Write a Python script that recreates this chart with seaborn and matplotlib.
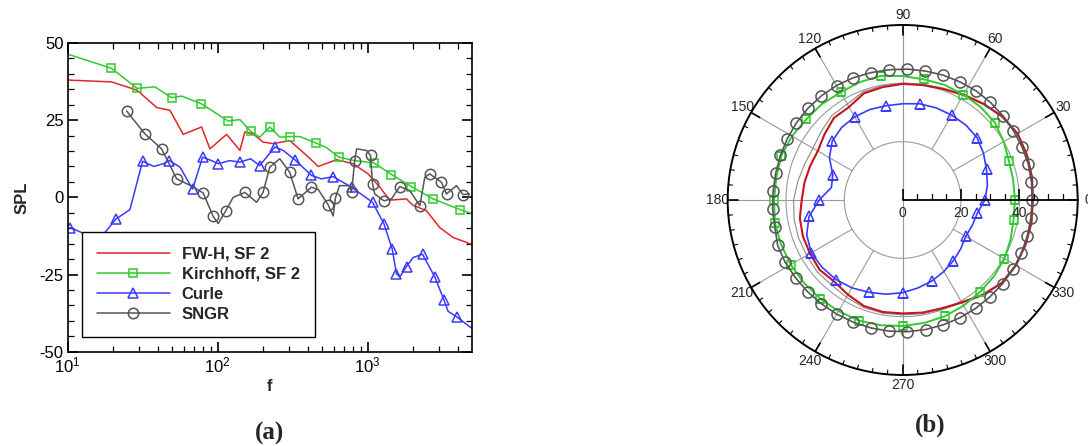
import numpy as np
import matplotlib
matplotlib.use("Agg")
import matplotlib.pyplot as plt
import seaborn as sns
from matplotlib.lines import Line2D
from matplotlib.ticker import MultipleLocator, LogLocator, NullFormatter

# ---- panel (a): spectra ----
fwh_f = [10, 19.6, 29.1, 39.2, 48.1, 59, 78.2, 88.9, 114.8, 141, 152, 172.5, 201, 235, 303,
         392, 469, 621, 802, 1009, 1208, 1408, 1820, 2000, 2470, 3034, 3724, 4930]
fwh_spl = [38, 37.4, 34.7, 29.1, 28.2, 20.4, 22.8, 15.7, 20.4, 15.2, 21.2, 20.6, 17.9, 17.4, 18.4,
           13.6, 10, 12.2, 10.9, 7.6, 3.3, -0.9, -0.5, -2.5, -4.3, -9.8, -13, -15.2]

kir_f = [10, 19.6, 29.1, 38.2, 49.3, 57.5, 77.4, 117.8, 140.8, 166, 191, 223, 260, 303, 354,
         452, 533, 644, 822, 1101, 1445, 1963, 2737, 4169, 4930]
kir_spl = [46.4, 41.8, 35.3, 35.8, 32.3, 32.8, 30.4, 24.7, 25.2, 21.4, 19.5, 22.8, 19.5, 19.7, 19.7,
           17.6, 16.1, 13, 11.9, 11.2, 7.4, 3.5, -0.5, -4.0, -5.2]
kir_marks = [1, 2, 4, 6, 7, 9, 11, 13, 15, 17, 19, 20, 21, 22, 23]

cur_f = [10.4, 13.1, 15, 17.3, 21, 26, 31.6, 37.6, 43.4, 47.6, 56.1, 68.1, 79.4, 91.2, 101, 121,
         141, 166, 191, 241, 274, 327, 423, 493, 590, 782, 1080, 1285, 1459, 1560, 1641, 1820,
         2016, 2328, 2812, 3245, 3447, 3956, 4930]
cur_spl = [-9.8, -11.9, -16, -12, -7, -4, 11.7, 10, 10.9, 11.9, 9.8, 2.7, 13, 11.9, 10.9, 11.9,
           11.4, 12.5, 10.3, 16.3, 15.2, 12.2, 7.1, 6, 6.7, 3.3, -1.6, -8.5, -16.6, -24.7, -25.8, -22.4,
           -19.5, -18.4, -25.8, -33.4, -36.9, -38.8, -42.3]
cur_marks = [0, 4, 6, 9, 11, 12, 14, 16, 18, 19, 21, 22, 24, 25, 26, 27, 28, 29, 31, 33, 34, 35, 37]

sngr_f = [24.7, 32.7, 42.3, 53.3, 68, 80.2, 93.5, 101, 113.5, 127, 152, 182, 201, 223, 260, 303,
          344, 423, 470, 546, 590, 611, 650, 760, 782, 822, 845, 985, 1047, 1080, 1117, 1285,
          1445, 1641, 1914, 2233, 2411, 2600, 3113, 3365, 3920, 4335, 4785]
sngr_spl = [28, 20.6, 15.7, 6, 3.5, 1.4, -6.2, -8.5, -4.3, 0, 1.6, -1.6, 1.6, 9.8, 12.5, 8.1,
            -0.5, 3.3, 2.5, -2.4, -6, -0.2, 3.8, 3.8, 1.6, 11.9, 15.7, 15.2, 13.6, 4.4, 1.1, -1.1,
            -0.5, 3.5, 2.2, -2.7, 6.5, 7.6, 4.9, 1.1, 3.8, 0.9, 1.1]
sngr_marks = [0, 1, 2, 3, 5, 6, 8, 10, 12, 13, 15, 16, 17, 19, 21, 24, 25, 28, 29, 31, 33, 35, 37, 38, 39, 41]

# ---- panel (b): directivity ----
ang10 = list(range(0, 370, 10))
fwh_r = [44.6, 45, 45.3, 45.5, 44.5, 43, 41.6, 40.5, 40, 39.8, 39.3, 38.9, 36.8, 36.7, 35, 33.6,
         33.8, 34.2, 34.6, 35.8, 36.4, 36.7, 37.2, 36.5, 37.5, 38.7, 39, 38.9, 39.2, 39.5, 40.5,
         42.5, 44.3, 44.8, 44.8, 44.8, 44.6]
sf1_r = [44.8, 45.2, 45.5, 45.6, 44.8, 43.3, 41.9, 40.8, 40.3, 40.1, 39.8, 39.5, 38, 37.8, 36.5,
         35.5, 35.8, 36.5, 37.4, 37.8, 38, 38, 38.3, 38, 38.5, 39.2, 39.4, 39.4, 39.6, 39.9, 40.8,
         42.8, 44.5, 45, 45, 45, 44.8]
kir_r = [38.5, 38.5, 38.8, 40, 41.3, 41.6, 41.7, 42, 42, 42.5, 43.2, 43, 42.6, 43, 43.1, 43.8,
         44.3, 44, 44.1, 44.5, 44.4, 44.3, 44.2, 44.1, 44, 44, 43.6, 43.2, 42.8, 42.4, 41.8,
         41.2, 40.8, 40.3, 39.4, 38.6, 38.5]
cur_r = [28.2, 29.5, 30.6, 32, 33.3, 33.6, 33.6, 33.6, 33.5, 33, 32.8, 33, 32.9, 32.5, 31.5, 29,
         25.5, 24.8, 28.6, 32.6, 35, 36.2, 36, 35.6, 34.8, 33.7, 32.8, 31.8, 30.6, 29.5, 28.3,
         27.1, 26, 25, 25.4, 26, 28.2]
dir_marks = [0, 2, 4, 6, 8, 10, 12, 14, 16, 18, 19, 21, 23, 25, 27, 29, 31, 33, 35]

ang8 = list(range(0, 368, 8))
sngr_r = [44.4, 44.6, 44.8, 44.8, 44.8, 44.9, 45, 45.1, 45, 45, 44.9, 44.9, 44.9, 45, 45.2, 45.3,
          45.3, 45.2, 45, 44.8, 44.6, 44.5, 44.5, 44.7, 44.8, 45.6, 45.6, 45.4, 45.3, 45.2, 45.2,
          45.2, 45.2, 45.2, 45.2, 45.1, 45, 44.9, 44.8, 44.7, 44.7, 44.7, 44.6, 44.5, 44.4, 44.4]

RED, GREEN, BLUE, GRAY = "#e3262a", "#2fcb2f", "#3a3aff", "#555555"

sns.set_style("ticks")
plt.rcParams["font.family"] = ["Liberation Sans", "DejaVu Sans"]
plt.rcParams["mathtext.default"] = "regular"
plt.rcParams["axes.unicode_minus"] = False

fig = plt.figure(figsize=(10.88, 4.46), dpi=100)

# ---------------- (a) ----------------
ax1 = fig.add_axes([0.0622, 0.2114, 0.3713, 0.6922])
sns.lineplot(x=fwh_f, y=fwh_spl, ax=ax1, color=RED, lw=1.1, sort=False, estimator=None, legend=False)
sns.lineplot(x=kir_f, y=kir_spl, ax=ax1, color=GREEN, lw=1.1, sort=False, estimator=None, legend=False,
             marker="s", markevery=kir_marks, markersize=5.5, markerfacecolor="none",
             markeredgecolor=GREEN, markeredgewidth=1.1)
sns.lineplot(x=cur_f, y=cur_spl, ax=ax1, color=BLUE, lw=1.1, sort=False, estimator=None, legend=False,
             marker="^", markevery=cur_marks, markersize=6.5, markerfacecolor="none",
             markeredgecolor=BLUE, markeredgewidth=1.1)
sns.lineplot(x=sngr_f, y=sngr_spl, ax=ax1, color=GRAY, lw=1.1, sort=False, estimator=None, legend=False,
             marker="o", markevery=sngr_marks, markersize=7.5, markerfacecolor="none",
             markeredgecolor=GRAY, markeredgewidth=1.1)

ax1.set_xscale("log")
ax1.set_xlim(10, 4950)
ax1.set_ylim(-50, 50)
ax1.set_yticks([-50, -25, 0, 25, 50])
ax1.yaxis.set_minor_locator(MultipleLocator(5))
ax1.xaxis.set_major_locator(LogLocator(base=10))
ax1.xaxis.set_minor_locator(LogLocator(base=10, subs=np.arange(2, 10)))
ax1.xaxis.set_minor_formatter(NullFormatter())
ax1.tick_params(which="both", direction="in", top=True, right=True, labelsize=12, colors="black")
ax1.tick_params(which="major", length=7, width=1.2, pad=3)
ax1.tick_params(which="minor", length=4, width=0.9)
for s in ax1.spines.values():
    s.set_visible(True)
    s.set_linewidth(1.2)
    s.set_color("black")
ax1.set_xlabel("f", fontsize=12, fontweight="bold", labelpad=2)
ax1.set_ylabel("SPL", fontsize=12, fontweight="bold", labelpad=7)

handles = [
    Line2D([], [], color=RED, lw=1.1),
    Line2D([], [], color=GREEN, lw=1.1, marker="s", ms=5.5, mfc="none", mec=GREEN, mew=1.1),
    Line2D([], [], color=BLUE, lw=1.1, marker="^", ms=6.5, mfc="none", mec=BLUE, mew=1.1),
    Line2D([], [], color=GRAY, lw=1.1, marker="o", ms=7.5, mfc="none", mec=GRAY, mew=1.1),
]
leg = ax1.legend(handles, ["FW-H, SF 2", "Kirchhoff, SF 2", "Curle", "SNGR"],
                 loc="lower left", bbox_to_anchor=(0.035, 0.048), borderaxespad=0,
                 prop={"weight": "bold", "size": 12}, handlelength=4.4, handletextpad=0.7,
                 labelspacing=0.3, borderpad=0.9, fancybox=False, framealpha=1,
                 edgecolor="black")
leg.get_frame().set_linewidth(1.0)

fig.text(270 / 1088, 1 - 433 / 446, "(a)", ha="center", va="center", fontsize=18,
         fontweight="bold", family="Liberation Serif")

# ---------------- (b) ----------------
ax2 = fig.add_axes([0.6688, 0.1592, 0.3217, 0.7848], projection="polar")
ax2.set_ylim(0, 60)
ax2.grid(False)
ax2.set_yticks([])

full = np.linspace(0, 2 * np.pi, 361)
for rr in (20, 40):
    ax2.plot(full, np.full_like(full, rr), color="#9a9a9a", lw=0.8, zorder=1)
for a in (30, 60, 120, 150, 180, 210, 240, 300, 330):
    ax2.plot([np.deg2rad(a)] * 2, [20, 60], color="#9a9a9a", lw=0.8, zorder=1)
for a in (90, 270):
    ax2.plot([np.deg2rad(a)] * 2, [0, 60], color="#9a9a9a", lw=0.8, zorder=1)

# outer ring ticks, pointing inward
for a in range(0, 360, 5):
    inner = 56.6 if a % 30 == 0 else 58.6
    ax2.plot([np.deg2rad(a)] * 2, [inner, 60], color="black",
             lw=1.2 if a % 30 == 0 else 0.8, zorder=4)

t10 = np.deg2rad(ang10)
t8 = np.deg2rad(ang8)
sns.lineplot(x=t10, y=sf1_r, ax=ax2, color="#8a8a8a", lw=0.8, sort=False, estimator=None, legend=False)
sns.lineplot(x=t10, y=fwh_r, ax=ax2, color="#c8141c", lw=1.5, sort=False, estimator=None, legend=False)
sns.lineplot(x=t10, y=kir_r, ax=ax2, color=GREEN, lw=1.4, sort=False, estimator=None, legend=False,
             marker="s", markevery=dir_marks, markersize=5.5, markerfacecolor="none",
             markeredgecolor=GREEN, markeredgewidth=1.1)
sns.lineplot(x=t10, y=cur_r, ax=ax2, color=BLUE, lw=1.2, sort=False, estimator=None, legend=False,
             marker="^", markevery=dir_marks, markersize=6.5, markerfacecolor="none",
             markeredgecolor=BLUE, markeredgewidth=1.1)
sns.lineplot(x=t8, y=sngr_r, ax=ax2, color=GRAY, lw=1.2, sort=False, estimator=None, legend=False,
             marker="o", markevery=list(range(45)), markersize=8, markerfacecolor="none",
             markeredgecolor=GRAY, markeredgewidth=1.1)

ax2.set_xticks(np.deg2rad(np.arange(0, 360, 30)))
ax2.set_xticklabels([str(a) for a in range(0, 360, 30)], fontsize=10)
ax2.tick_params(axis="x", which="major", pad=-3)
ax2.set_xlabel("")
ax2.set_ylabel("")
ax2.spines["polar"].set_linewidth(1.4)
ax2.spines["polar"].set_color("black")

# radial axis along 0 deg
ax2.plot([0, 0], [0, 60], color="black", lw=1.3, zorder=5)
ax2.plot(np.zeros(3), [0, 20, 40], ls="none", marker=2, ms=8, mew=1.2, color="black", zorder=5)
ax2.plot(np.zeros(9), [5, 10, 15, 25, 30, 35, 45, 50, 55], ls="none", marker=2, ms=4, mew=0.9,
         color="black", zorder=5)
for rr in (0, 20, 40):
    ax2.annotate(str(rr), xy=(0, rr), xytext=(0, -4), textcoords="offset points",
                 ha="center", va="top", fontsize=10)

fig.text(930 / 1088, 1 - 425 / 446, "(b)", ha="center", va="center", fontsize=18,
         fontweight="bold", family="Liberation Serif")

fig.savefig("out.png", dpi=100)
